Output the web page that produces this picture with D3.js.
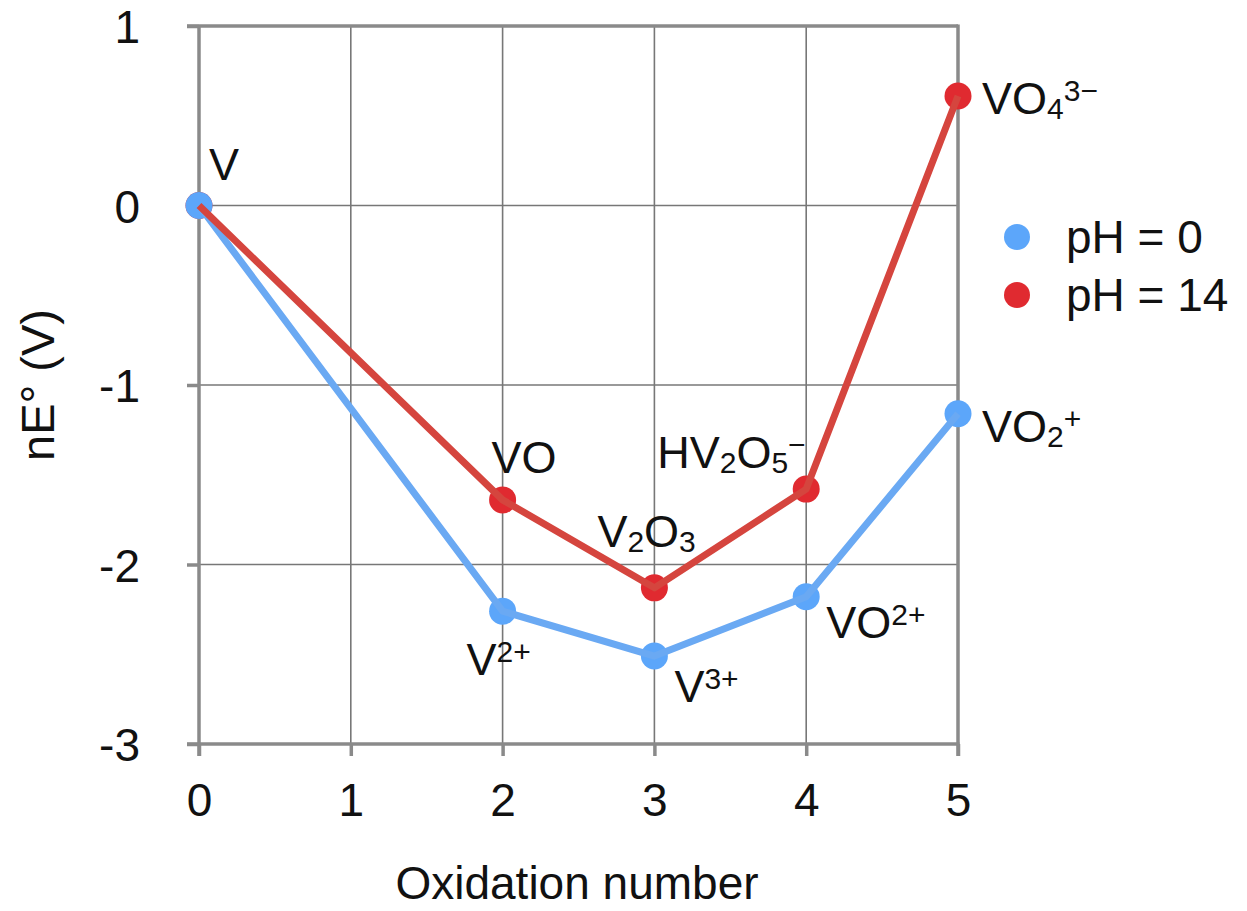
<!DOCTYPE html>
<html>
<head>
<meta charset="utf-8">
<script src="https://cdn.jsdelivr.net/npm/d3@7"></script>
<style>
  body { margin: 0; background: #fff; }
  text { font-family: "Liberation Sans", Arial, Helvetica, sans-serif; fill: #111; }
</style>
</head>
<body>
<div class="chart"></div>
<script>
// data
const oxidation = [0, 2, 3, 4, 5];
const ph0Values = [0, -2.26, -2.51, -2.18, -1.16];
const ph14Values = [0, -1.64, -2.13, -1.58, 0.61];
// species labels: segments of [text, kind] where kind is n(ormal), b (sub), p (super)
const ph0Labels = [
    [["V", "n"]],
    [["V", "n"], ["2+", "p"]],
    [["V", "n"], ["3+", "p"]],
    [["VO", "n"], ["2+", "p"]],
    [["VO", "n"], ["2", "b"], ["+", "p"]]
];
const ph14Labels = [
    null,
    [["VO", "n"]],
    [["V", "n"], ["2", "b"], ["O", "n"], ["3", "b"]],
    [["HV", "n"], ["2", "b"], ["O", "n"], ["5", "b"], ["\u2212", "p"]],
    [["VO", "n"], ["4", "b"], ["3\u2212", "p"]]
];
const xTicks = [0, 1, 2, 3, 4, 5];
const yTicks = [1, 0, -1, -2, -3];
const legendNames = ["pH = 0", "pH = 14"];

const width = 1247, height = 911;
const margin = {top: 26, right: 289, bottom: 167, left: 199};

const svg = d3.select(".chart").append("svg")
    .attr("width", width)
    .attr("height", height);

const xScale = d3.scaleLinear()
    .domain([0, 5])
    .range([margin.left, 958]);

const yScale = d3.scaleLinear()
    .domain([-3, 1])
    .range([744, margin.top]);

const gridColor = "#777", frameColor = "#8a8a8a";

// thin grid
svg.append("g").selectAll(".hgrid")
    .data(yTicks.slice(1, -1))
    .enter()
    .append("line")
    .attr("x1", xScale(0)).attr("x2", xScale(5))
    .attr("y1", d => yScale(d)).attr("y2", d => yScale(d))
    .attr("stroke", gridColor).attr("stroke-width", 1.6);

svg.append("g").selectAll(".vgrid")
    .data(xTicks.slice(1, -1))
    .enter()
    .append("line")
    .attr("x1", d => xScale(d)).attr("x2", d => xScale(d))
    .attr("y1", yScale(1)).attr("y2", yScale(-3))
    .attr("stroke", gridColor).attr("stroke-width", 1.6);

// axes (plain hyphen minus like the original)
const xAxis = d3.axisBottom(xScale).tickValues(xTicks).tickSize(12).tickFormat(d => String(d));
const yAxis = d3.axisLeft(yScale).tickValues(yTicks).tickSize(12).tickFormat(d => String(d));

const gx = svg.append("g")
    .attr("transform", `translate(0, ${yScale(-3)})`)
    .call(xAxis);
const gy = svg.append("g")
    .attr("transform", `translate(${xScale(0)}, 0)`)
    .call(yAxis);

[gx, gy].forEach(g => {
    g.select(".domain").remove();
    g.selectAll(".tick line").attr("stroke", frameColor).attr("stroke-width", 3.5);
    g.selectAll(".tick text")
        .attr("font-size", "46px")
        .attr("fill", "#111")
        .style("font-family", '"Liberation Sans", Arial, sans-serif');
});
gx.selectAll(".tick text").attr("dy", "0.71em").attr("y", 39);
gy.selectAll(".tick text").attr("x", -59).attr("dy", "0.36em");

// frame
const frame = [
    [xScale(0) - 12, yScale(1), xScale(5), yScale(1)],
    [xScale(0) - 12, yScale(-3), xScale(5) + 1.5, yScale(-3)],
    [xScale(0), yScale(1), xScale(0), yScale(-3) + 12],
    [xScale(5), yScale(1) - 1.5, xScale(5), yScale(-3) + 12]
];
svg.append("g").selectAll("line")
    .data(frame)
    .enter()
    .append("line")
    .attr("x1", d => d[0]).attr("y1", d => d[1])
    .attr("x2", d => d[2]).attr("y2", d => d[3])
    .attr("stroke", frameColor).attr("stroke-width", 3.5);

// axis titles
svg.append("text")
    .attr("x", 577)
    .attr("y", 899)
    .attr("text-anchor", "middle")
    .attr("font-size", "46px")
    .text("Oxidation number");

svg.append("text")
    .attr("transform", "translate(54, 385) rotate(-90)")
    .attr("text-anchor", "middle")
    .attr("font-size", "47px")
    .text("nE\u00b0 (V)");

// series
const series = [
    {name: legendNames[0], values: ph0Values, labels: ph0Labels, line: "#6aa9f3", dot: "#5ca6fa"},
    {name: legendNames[1], values: ph14Values, labels: ph14Labels, line: "#d5453e", dot: "#e02a30"}
];

const line = d3.line()
    .x((d, i) => xScale(oxidation[i]))
    .y(d => yScale(d));

// markers first, lines drawn over them
series.slice().reverse().forEach(s => {
    svg.append("g").selectAll("circle")
        .data(s.values)
        .enter()
        .append("circle")
        .attr("cx", (d, i) => xScale(oxidation[i]))
        .attr("cy", d => yScale(d))
        .attr("r", 13.5)
        .attr("fill", s.dot);
});
series.forEach(s => {
    svg.append("path")
        .datum(s.values)
        .attr("d", line)
        .attr("fill", "none")
        .attr("stroke", s.line)
        .attr("stroke-width", 7)
        .attr("stroke-linejoin", "round");
});

// label offsets from each point (px)
const ph0Offsets = [[10, -26], [-36, 64], [20, 46], [20, 41], [24, 28]];
const ph14Offsets = [null, [-11, -27], [-57, -41], [-149, -21], [24, 18]];

function drawLabel(parts, px, py) {
    const t = svg.append("text")
        .attr("x", px)
        .attr("y", py)
        .attr("font-size", "45px");
    let shift = 0;
    parts.forEach(p => {
        const target = p[1] === "b" ? 5 : p[1] === "p" ? -13 : 0;
        t.append("tspan")
            .attr("dy", target - shift)
            .attr("font-size", p[1] === "n" ? "45px" : "30px")
            .text(p[0]);
        shift = target;
    });
}

series.forEach((s, si) => {
    const offs = si === 0 ? ph0Offsets : ph14Offsets;
    s.labels.forEach((lab, i) => {
        if (!lab) return;
        drawLabel(lab, xScale(oxidation[i]) + offs[i][0], yScale(s.values[i]) + offs[i][1]);
    });
});

// legend
const legend = svg.append("g");
legend.selectAll("circle")
    .data(series)
    .enter()
    .append("circle")
    .attr("cx", 1017)
    .attr("cy", (d, i) => 237 + i * 58)
    .attr("r", 13)
    .attr("fill", d => d.dot);
legend.selectAll("text")
    .data(series)
    .enter()
    .append("text")
    .attr("x", 1066)
    .attr("y", (d, i) => 253 + i * 58)
    .attr("font-size", "46px")
    .text(d => d.name);
</script>
</body>
</html>
